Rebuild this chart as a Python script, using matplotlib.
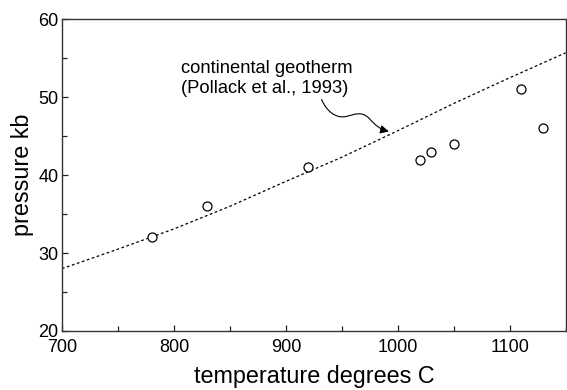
import matplotlib
matplotlib.use("Agg")
import matplotlib.pyplot as plt
from matplotlib.path import Path
from matplotlib.patches import FancyArrowPatch
from matplotlib.ticker import MultipleLocator

plt.rcParams['font.family'] = ['Liberation Sans', 'DejaVu Sans']

# measured data points
temp_pts = [780, 830, 920, 1020, 1030, 1050, 1110, 1130]
press_pts = [32, 36, 41, 42, 43, 44, 51, 46]

# continental geotherm (Pollack et al., 1993)
geo_temp = [700, 750, 800, 850, 900, 950, 1000, 1050, 1100, 1150]
geo_press = [28.0, 30.5, 33.1, 36.0, 39.2, 42.3, 45.7, 49.2, 52.5, 55.7]

fig = plt.figure(figsize=(5.67, 3.9), dpi=100)
ax = fig.add_axes([0.1093, 0.1513, 0.8884, 0.7992])

ax.plot(geo_temp, geo_press, color='black', lw=0.9, ls=(0, (2.2, 2.0)))
ax.plot(temp_pts, press_pts, ls='none', marker='o', ms=6.5, mfc='white',
        mec='black', mew=0.9)

ax.set_xlim(700, 1150)
ax.set_ylim(20, 60)
ax.xaxis.set_major_locator(MultipleLocator(100))
ax.xaxis.set_minor_locator(MultipleLocator(50))
ax.yaxis.set_major_locator(MultipleLocator(10))
ax.yaxis.set_minor_locator(MultipleLocator(5))
ax.tick_params(which='both', direction='in', top=False, right=False,
               labelsize=13, width=0.9, color='#222222')
ax.tick_params(axis='x', which='major', pad=6)
ax.tick_params(axis='y', which='major', pad=2.5)
ax.tick_params(which='major', length=4)
ax.tick_params(which='minor', length=3.5)
for s in ax.spines.values():
    s.set_color('#333333')
    s.set_linewidth(1.0)

ax.set_xlabel('temperature degrees C', fontsize=16.8, labelpad=6)
ax.set_ylabel('pressure kb', fontsize=16.8, labelpad=3)

ax.text(806, 50.55, 'continental geotherm\n(Pollack et al., 1993)',
        fontsize=13.2, ha='left', va='baseline', linespacing=1.2)

verts = [(932, 49.7), (936, 48.3), (944, 47.3), (953, 47.5),
         (962, 47.8), (968, 48.3), (975, 47.2),
         (980, 46.4), (984, 45.9), (992, 45.6)]
codes = [Path.MOVETO] + [Path.CURVE4] * 9
arrow = FancyArrowPatch(path=Path(verts, codes), arrowstyle='-|>,head_length=5,head_width=2.5',
                        color='black', lw=0.8)
ax.add_patch(arrow)

fig.savefig('out.png', dpi=100)
